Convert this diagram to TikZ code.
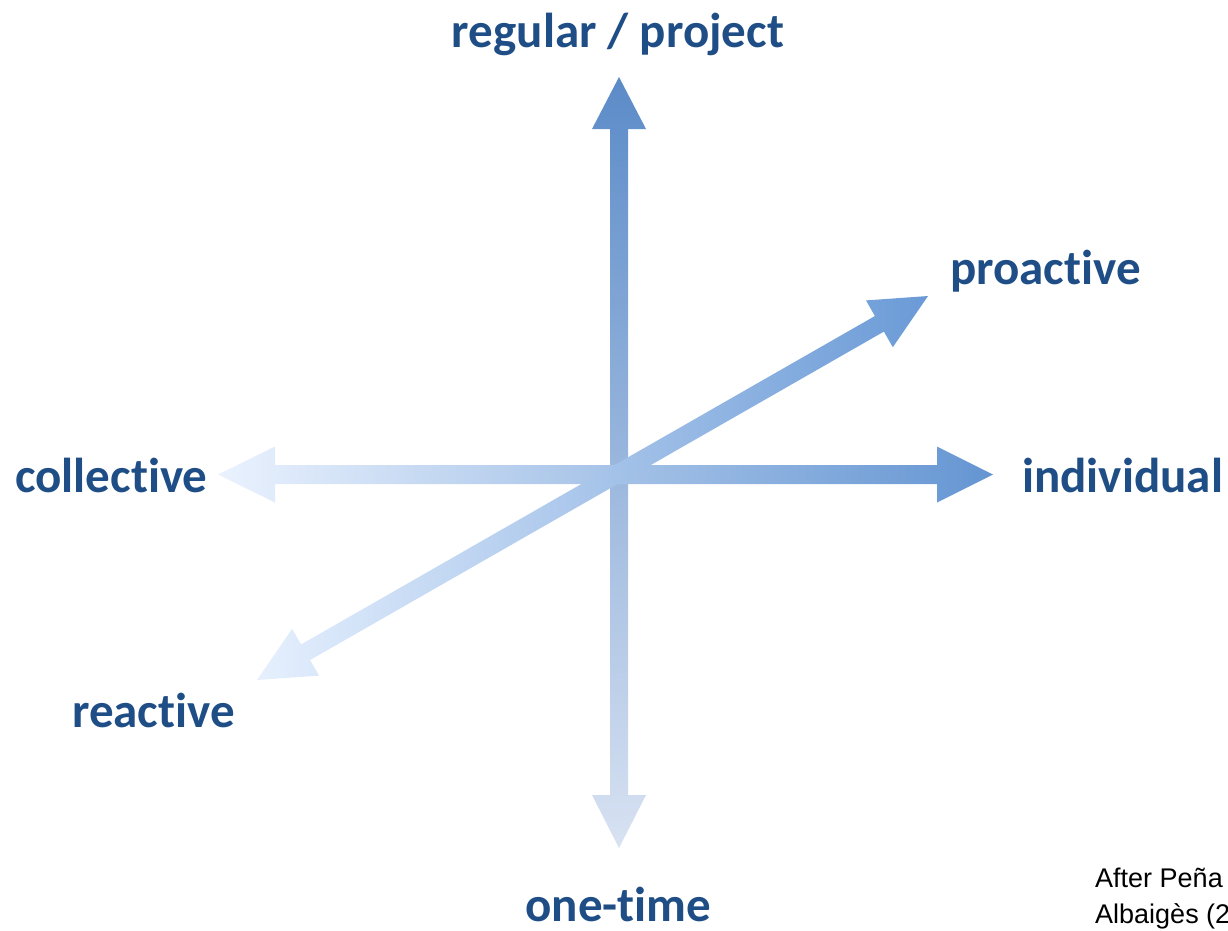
\documentclass[tikz,border=0pt]{standalone}
\usepackage{fontspec}
\setmainfont{Carlito}[Ligatures={NoCommon,NoRare,NoContextual}]
\newfontfamily\srcfont{Liberation Sans}
\usetikzlibrary{calc}
\definecolor{labelblue}{HTML}{1F4E87}
\definecolor{vdark}{HTML}{5B8BC8}
\definecolor{vmid}{HTML}{C3D3EC}
\definecolor{vlight}{HTML}{D8E2F2}
\definecolor{hdark}{HTML}{6495D2}
\definecolor{hmid}{HTML}{C8DAF5}
\definecolor{hlight}{HTML}{EAF2FE}
\definecolor{ddark}{HTML}{6A9AD6}
\definecolor{dmid}{HTML}{C8DAF6}
\definecolor{dlight}{HTML}{E6F0FE}
\begin{document}
\begin{tikzpicture}[x=1pt,y=-1pt,
  axislabel/.style={font=\bfseries\fontsize{49}{49}\selectfont, text=labelblue, inner sep=0pt, anchor=base west},
  source/.style={font=\srcfont\fontsize{27}{27}\selectfont, inner sep=0pt, anchor=base west},
  fatarrow/.style={draw=none}]
\useasboundingbox (0,0) rectangle (1228,930);

% arrow tips
\coordinate (vt) at (619,77);
\coordinate (vb) at (619,848);
\coordinate (hl) at (218,474.5);
\coordinate (hr) at (993,474.5);
\coordinate (du) at (928,296);
\coordinate (dl) at (257,680);

% vertical arrow
\path[fatarrow, top color=vdark, middle color=vmid, bottom color=vlight]
  (vt) -- ($(vt)+(27,52)$) -- ($(vt)+(9,52)$) -- ($(vb)+(9,-53)$) -- ($(vb)+(27,-53)$)
  -- (vb) -- ($(vb)+(-27,-53)$) -- ($(vb)+(-9,-53)$) -- ($(vt)+(-9,52)$) -- ($(vt)+(-27,52)$) -- cycle;

% horizontal arrow
\path[fatarrow, left color=hlight, middle color=hmid, right color=hdark]
  (hl) -- ($(hl)+(57,-28)$) -- ($(hl)+(57,-9.5)$) -- ($(hr)+(-56,-9.5)$) -- ($(hr)+(-56,-28)$)
  -- (hr) -- ($(hr)+(-56,28)$) -- ($(hr)+(-56,9.5)$) -- ($(hl)+(57,9.5)$) -- ($(hl)+(57,28)$) -- cycle;

% diagonal arrow
\path[fatarrow, left color=dlight, middle color=dmid, right color=ddark]
  (du) -- (892.8,347.2) -- (883.9,331.6) -- (310.1,660.0) -- (319.0,675.6)
  -- (dl) -- (292.2,628.8) -- (301.1,644.4) -- (874.9,316.0) -- (866.0,300.4) -- cycle;

% labels
\node[axislabel, anchor=base] (reg) at (618,47) {regular / project};
\node[axislabel] (pro) at (950,284) {proactive};
\node[axislabel] (ind) at (1022,492) {individual};
\node[axislabel] (col) at (15,492) {collective};
\node[axislabel] (rea) at (72,727) {reactive};
\node[axislabel, anchor=base] (one) at (618.5,921) {one-time};
\node[source] (src1) at (1095,887) {After Peña};
\node[source] (src2) at (1095,923) {Albaigès (2};
\end{tikzpicture}
\end{document}
